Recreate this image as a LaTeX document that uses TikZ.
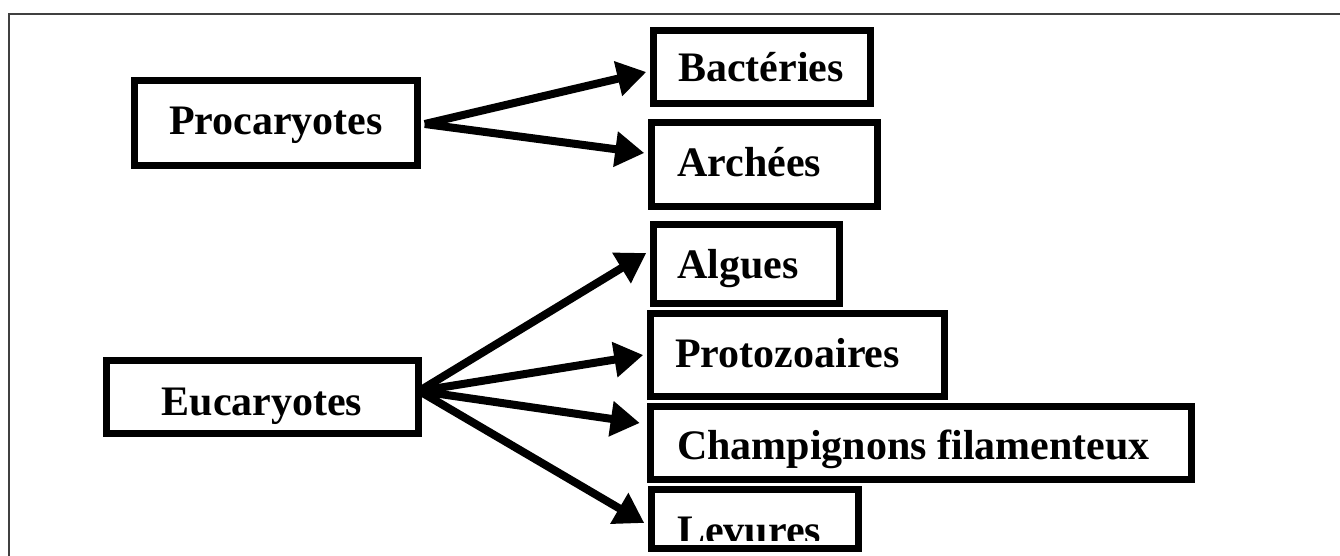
\documentclass[tikz,border=0pt]{standalone}
\usepackage{fontspec}
\setmainfont{Liberation Serif}
\usetikzlibrary{arrows.meta,calc}

\tikzset{
  box/.style={draw=black, line width=7.5pt, inner sep=0pt, minimum width=#1},
  lbl/.style={inner sep=0pt, anchor=base west, font=\fontsize{42}{50}\selectfont\bfseries},
  clbl/.style={inner sep=0pt, anchor=base, font=\fontsize{42}{50}\selectfont\bfseries},
  arr/.style={draw=black, line width=8pt, -{Triangle[length=29pt, width=34pt]}},
  frame/.style={draw=black!75, line width=2pt}
}

\begin{document}
\begin{tikzpicture}[x=1pt, y=-1pt]
\useasboundingbox (0,0) rectangle (1340,556);
\fill[white] (0,0) rectangle (1340,556);

% page frame (open at the bottom)
\draw[frame] (9,556) -- (9,14) -- (1340,14);

% boxes
\node[box=283pt, minimum height=85pt] (proc) at (276,123) {};
\node[box=312pt, minimum height=73pt] (euc) at (262.5,397) {};
\node[box=217pt, minimum height=73pt] (bact) at (762,67) {};
\node[box=226pt, minimum height=84pt] (arch) at (764.5,164.5) {};
\node[box=186pt, minimum height=79pt] (alg) at (746.5,264) {};
\node[box=294pt, minimum height=83pt] (proto) at (797.5,355) {};
\node[box=541pt, minimum height=73pt] (champ) at (921,443) {};
\node[box=207pt, minimum height=59pt] (lev) at (755,519) {};

% labels
\node[clbl] (tproc) at (276,135) {Procaryotes};
\node[clbl] (teuc) at (262,415) {Eucaryotes};
\node[lbl] (tbact) at (678,82) {Bactéries};
\node[lbl] (tarch) at (677,177) {Archées};
\node[lbl] (talg) at (677,278) {Algues};
\node[lbl] (tproto) at (675,367) {Protozoaires};
\node[lbl] (tchamp) at (677,459) {Champignons filamenteux};
\begin{scope}
  \clip (655,490) rectangle (858,540);
  \node[lbl] (tlev) at (677,544) {Levures};
\end{scope}

% arrows
\coordinate (po) at ($(proc.east)+(3.5,1)$);
\coordinate (eo) at ($(euc.east)+(-3,-6)$);
\draw[arr] (po) -- ($(bact.west)+(-3.5,5)$);
\draw[arr] (po) -- ($(arch.west)+(-3.5,-11.5)$);
\draw[arr] (eo) -- ($(alg.west)+(-3.5,-11)$);
\draw[arr] (eo) -- ($(proto.west)+(-3.5,0)$);
\draw[arr] (eo) -- ($(champ.west)+(-7,-20)$);
\draw[arr] (eo) -- ($(lev.west)+(-3.5,4)$);
\end{tikzpicture}
\end{document}
